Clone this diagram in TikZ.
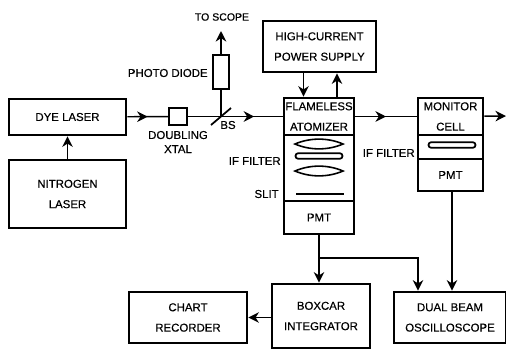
\documentclass[tikz,border=0pt]{standalone}
\usepackage{fontspec}
\setmainfont[FakeBold=0.4]{Liberation Sans}
\usetikzlibrary{arrows.meta, calc, decorations.markings}

\tikzset{
  block/.style={draw=black, line width=1.6pt, align=center, inner sep=0pt,
    font=\fontsize{6.5}{11.6}\selectfont},
  bar/.style={draw=black, line width=1pt, rounded corners=1.5pt, fill=white,
    minimum width=.94cm, minimum height=.11cm, inner sep=0pt},
  lbl/.style={font=\fontsize{6.5}{8}\selectfont, align=center, inner sep=0pt},
  wire/.style={line width=.8pt},
  arrowed/.style={wire, -{Stealth[length=6pt, width=6pt]}},
  beam/.style={wire, decoration={markings,
    mark=at position #1 with {\arrow{Stealth[length=6pt, width=6pt]}}},
    postaction={decorate}},
  beam/.default=0.5
}

\begin{document}
\begin{tikzpicture}
  \useasboundingbox (0,0) rectangle (10.12,7);

  % source side
  \node[block, minimum width=2.34cm, minimum height=.72cm] (dye) at (1.35,4.66) {DYE LASER};
  \node[block, minimum width=2.34cm, minimum height=1.36cm] (nitrogen) at (1.35,3.12) {NITROGEN\\LASER};
  \node[block, line width=1.2pt, minimum width=.36cm, minimum height=.34cm] (xtal) at (3.56,4.67) {};
  \node[block, line width=1.2pt, minimum width=.32cm, minimum height=.68cm] (diode) at (4.42,5.56) {};
  \coordinate (bs) at (4.42,4.67);
  \coordinate (scope) at (4.42,6.38);

  % atomizer stack
  \node[block, minimum width=2.26cm, minimum height=1.02cm] (power) at (6.39,6.07) {HIGH-CURRENT\\POWER SUPPLY};
  \node[block, minimum width=1.40cm, minimum height=.74cm] (atomizer) at (6.38,4.67) {FLAMELESS\\ATOMIZER};
  \node[block, minimum width=1.40cm, minimum height=1.32cm] (optics) at (6.38,3.64) {};
  \node[block, minimum width=1.40cm, minimum height=.66cm] (pmt) at (6.38,2.65) {PMT};
  \node[bar] (filter) at (6.38,3.88) {};
  \node[bar, minimum height=.02cm, rounded corners=0pt] (slit) at (6.4,3.12) {};
  \foreach \y in {4.12,3.58}
    \draw[line width=.9pt] (5.90,\y) .. controls (6.2,\y+.13) and (6.56,\y+.13) .. (6.86,\y)
      .. controls (6.56,\y-.13) and (6.2,\y-.13) .. cycle;

  % monitor stack
  \node[block, minimum width=1.30cm, minimum height=.74cm] (monitor) at (9.01,4.67) {MONITOR\\CELL};
  \node[block, minimum width=1.30cm, minimum height=.48cm] (monoptics) at (9.01,4.06) {};
  \node[block, minimum width=1.30cm, minimum height=.64cm] (monpmt) at (9.01,3.50) {PMT};
  \node[bar] (monfilter) at (9.04,4.10) {};
  \coordinate (out) at (10.12,4.68);

  % lower row
  \node[block, minimum width=1.96cm, minimum height=1.28cm] (boxcar) at (6.42,.68) {BOXCAR\\INTEGRATOR};
  \node[block, minimum width=2.36cm, minimum height=1.02cm] (chart) at (3.76,.65) {CHART\\RECORDER};
  \node[block, minimum width=2.24cm, minimum height=1.02cm] (dual) at (9.00,.65) {DUAL BEAM\\OSCILLOSCOPE};
  \coordinate (branch) at (6.38,1.84);

  % labels
  \node[lbl, font=\fontsize{6}{8}\selectfont] (toscope) at (4.44,6.66) {TO SCOPE};
  \node[lbl, anchor=east] (pdlabel) at (4.16,5.54) {PHOTO DIODE};
  \node[lbl] (xtallabel) at (3.56,4.16) {DOUBLING\\XTAL};
  \node[lbl] (bslabel) at (4.56,4.50) {BS};
  \node[lbl, anchor=east] (iflabel) at (5.62,3.78) {IF FILTER};
  \node[lbl, anchor=east] (slitlabel) at (5.58,3.12) {SLIT};
  \node[lbl, anchor=east] (monif) at (8.30,3.94) {IF FILTER};

  % connectors
  \draw[arrowed] (nitrogen) -- (dye);
  \draw[beam] (dye) -- (xtal);
  \draw[beam=0.7] (xtal) -- (atomizer);
  \draw[wire] (bs) -- (diode);
  \draw[arrowed] (diode) -- (scope);
  \draw[line width=1pt] ($(bs)+(-.2,-.17)$) -- ($(bs)+(.2,.17)$);
  \draw[arrowed] ([xshift=-.32cm]power.south) -- ([xshift=-.32cm]power.south |- atomizer.north);
  \draw[arrowed] ([xshift=.36cm]atomizer.north) -- ([xshift=.36cm]atomizer.north |- power.south);
  \draw[beam] (atomizer) -- (monitor);
  \draw[arrowed] (monitor) -- (out);
  \draw[arrowed] (pmt.south) -- (pmt.south |- boxcar.north);
  \draw[wire, line width=.6pt] (pmt.south) -- (branch);
  \draw[arrowed, line width=.6pt] (branch) -| ([xshift=-.64cm]dual.north);
  \draw[arrowed, line width=.6pt] ([xshift=.03cm]monpmt.south) -- ([xshift=.03cm]monpmt.south |- dual.north);
  \draw[arrowed] (boxcar.west |- chart) -- (chart);
\end{tikzpicture}
\end{document}
